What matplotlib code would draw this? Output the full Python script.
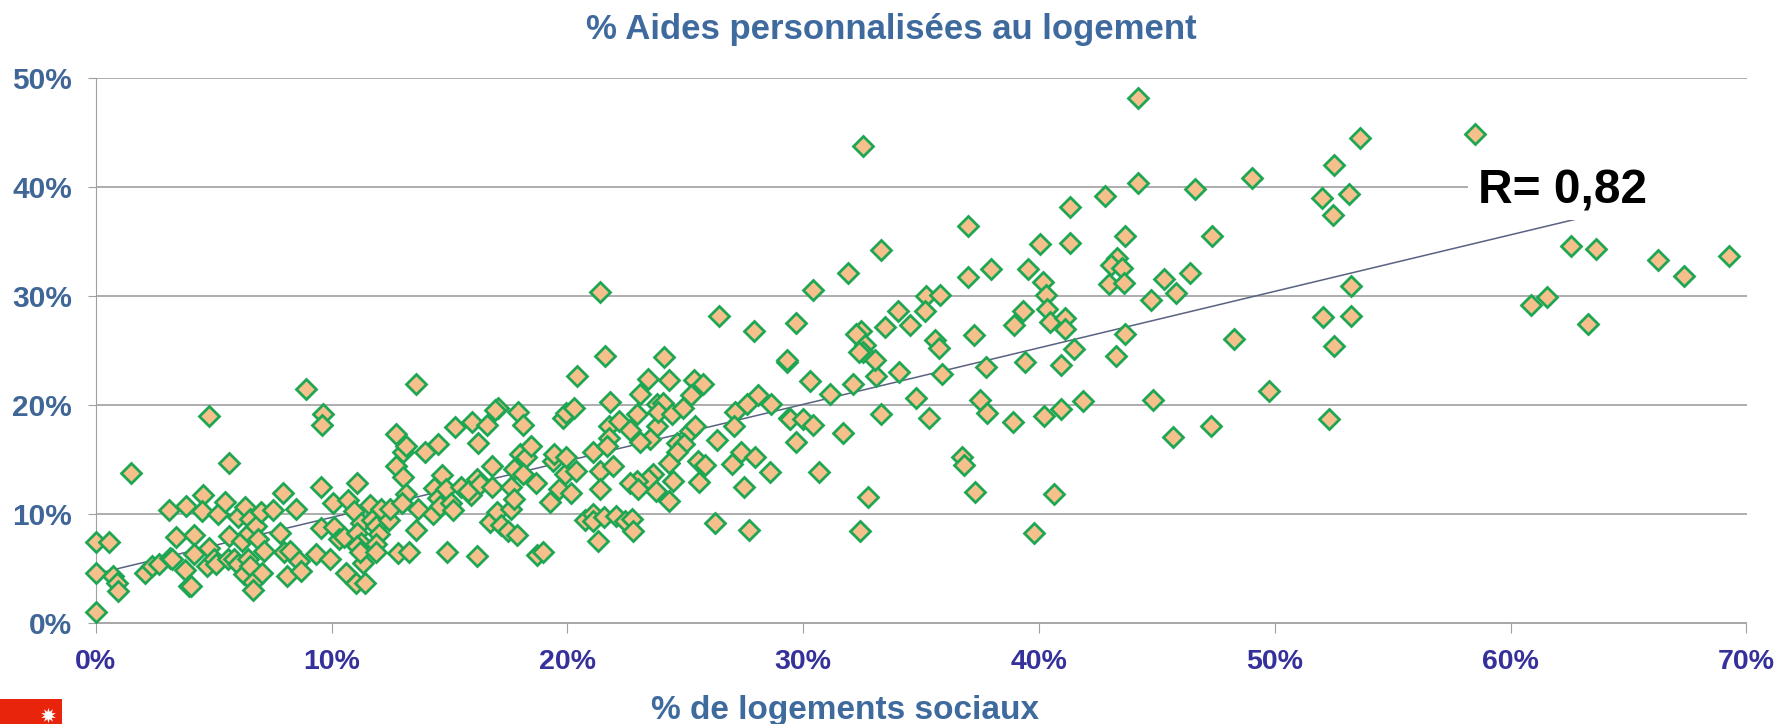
import matplotlib
matplotlib.use("Agg")
import matplotlib.pyplot as plt
from matplotlib.patches import Rectangle

plt.rcParams['font.family'] = ['Liberation Sans', 'DejaVu Sans']

W, H = 1787, 724

# % de logements sociaux
x_vals = [
    0, 0, 0, 0.55, 0.75, 0.9, 0.95, 1.5, 2.1, 2.4, 2.7, 3.1, 3.15, 3.25, 3.4, 3.85, 3.8, 3.97, 4.05, 4.15,
    4.15, 4.55, 4.5, 4.8, 4.7, 4.8, 5.0, 5.1, 5.2, 5.5, 5.65, 5.65, 5.6, 5.85, 6.05, 6.05, 6.2, 6.35, 6.45, 6.3,
    6.55, 6.65, 6.65, 6.55, 6.5, 6.8, 7.0, 6.9, 7.15, 7.05, 7.5, 7.8, 7.95, 8.0, 8.25, 8.1, 8.5, 8.6, 8.7, 8.9,
    9.65, 9.6, 9.55, 9.55, 9.35, 9.95, 10.05, 10.1, 10.3, 10.55, 10.6, 10.7, 10.95, 11.05, 11.4, 11.1, 11.35, 11.25, 11.1, 11.25,
    11.1, 11.2, 11.65, 11.7, 11.9, 12.0, 11.9, 11.9, 12.1, 12.45, 12.5, 12.75, 12.75, 13.05, 13.15, 13.0, 12.8, 13.3, 13.05, 13.15,
    13.6, 13.65, 13.6, 13.95, 14.5, 14.3, 14.35, 14.5, 14.7, 14.6, 14.85, 15.05, 15.15, 14.9, 15.25, 15.5, 15.95, 15.9, 15.8, 16.2,
    16.15, 16.15, 16.3, 16.8, 16.6, 16.8, 16.7, 17.0, 17.2, 17.05, 16.95, 17.6, 17.6, 17.75, 17.5, 17.85, 17.9, 18.1, 17.75, 18.0,
    18.25, 18.1, 18.45, 18.65, 18.7, 18.95, 19.25, 19.4, 19.45, 19.8, 19.95, 20.3, 19.9, 19.95, 19.65, 20.15, 20.35, 20.4, 20.75, 21.1,
    21.1, 21.1, 21.3, 21.4, 21.4, 21.55, 22.05, 22.45, 22.75, 22.8, 21.95, 21.8, 21.75, 21.75, 21.7, 22.2, 22.65, 22.95, 23.1, 23.4,
    24.3, 25.35, 25.75, 25.25, 23.8, 23.8, 24.05, 23.85, 24.45, 24.9, 23.5, 23.1, 25.2, 25.4, 24.65, 24.95, 24.65, 24.3, 25.55, 25.85,
    25.6, 24.5, 23.65, 23.4, 22.95, 22.65, 23.0, 23.75, 24.3, 26.25, 27.7, 26.35, 27.1, 27.05, 27.6, 28.1, 28.65, 27.35, 27.0, 27.95,
    27.5, 28.6, 29.4, 29.45, 30.0, 30.4, 29.7, 30.3, 29.3, 31.15, 32.1, 33.1, 34.05, 35.9, 37.75, 40.95, 34.8, 33.3, 31.7, 30.65,
    32.75, 32.4, 35.35, 37.5, 37.8, 38.9, 36.75, 36.8, 37.3, 40.65, 39.8, 40.2, 40.95, 41.85, 44.85, 45.7, 39.4, 32.55, 44.2, 44.2,
    46.6, 42.8, 41.3, 37.0, 40.05, 41.3, 43.65, 33.3, 31.9, 30.4, 37.0, 37.95, 39.55, 43.3, 43.05, 43.5, 40.15, 40.3, 42.95, 43.6,
    45.3, 46.4, 44.75, 45.8, 21.4, 26.45, 27.9, 29.7, 35.2, 35.8, 34.0, 35.15, 40.35, 39.3, 38.95, 40.45, 41.1, 41.1, 34.55, 33.45,
    32.45, 32.25, 32.6, 32.55, 32.35, 33.05, 37.25, 35.6, 35.75, 43.65, 41.5, 43.25, 21.6, 24.1, 29.3, 49.05, 52.5, 53.6, 58.5, 52.0,
    53.15, 52.45, 47.35, 53.25, 52.05, 53.25, 52.5, 48.25, 49.75, 52.3, 62.55, 63.6, 66.25, 67.35, 69.25, 61.55, 60.85, 63.3, 47.3,
]

# % Aides personnalisées au logement
y_vals = [
    1.0, 4.6, 7.45, 7.4, 4.3, 3.7, 2.95, 13.75, 4.6, 5.2, 5.4, 10.35, 6.0, 5.85, 7.9, 10.75, 4.9, 3.35, 3.35, 8.1,
    6.3, 11.7, 10.3, 19.0, 5.25, 6.9, 5.85, 5.4, 10.0, 11.1, 14.65, 8.0, 5.85, 5.85, 5.4, 9.75, 7.55, 10.6, 5.85, 4.5,
    5.25, 3.8, 3.0, 9.5, 8.3, 8.9, 10.15, 7.75, 6.6, 4.6, 10.35, 8.25, 11.95, 6.5, 6.6, 4.35, 10.5, 5.7, 4.8, 21.5,
    19.15, 18.15, 12.45, 8.7, 6.3, 5.85, 11.0, 8.85, 7.7, 7.85, 4.6, 11.3, 10.3, 3.7, 3.7, 12.8, 5.55, 9.2, 8.3, 7.3,
    7.1, 6.5, 10.8, 9.45, 8.9, 8.15, 7.25, 6.5, 10.45, 9.45, 10.5, 14.4, 17.3, 13.35, 11.8, 11.05, 6.4, 6.55, 15.7, 16.2,
    21.95, 10.5, 8.55, 15.65, 16.45, 10.0, 12.35, 11.5, 13.55, 10.75, 12.3, 11.05, 10.4, 6.55, 18.0, 12.45, 18.45, 11.75, 12.1, 16.5,
    6.15, 13.2, 12.75, 12.45, 18.2, 14.4, 9.3, 10.15, 9.0, 19.7, 19.5, 12.45, 10.5, 11.4, 8.45, 8.05, 19.35, 18.15, 14.15, 15.5,
    15.2, 13.65, 16.25, 12.8, 6.25, 6.55, 11.1, 14.85, 15.55, 18.85, 19.3, 19.75, 13.65, 15.2, 12.3, 11.95, 13.95, 22.65, 9.45, 10.0,
    9.35, 15.65, 7.55, 13.95, 12.3, 9.75, 9.85, 9.35, 9.5, 8.45, 14.4, 20.3, 18.1, 17.0, 16.25, 18.55, 17.75, 19.15, 21.05, 22.35,
    22.3, 22.3, 21.9, 20.9, 18.05, 20.05, 20.15, 19.35, 19.15, 19.75, 16.9, 16.6, 17.6, 18.1, 16.55, 16.4, 15.65, 14.7, 14.85, 14.45,
    12.95, 13.05, 13.65, 13.2, 13.05, 12.8, 12.3, 12.1, 11.2, 9.15, 8.55, 16.8, 19.35, 18.05, 20.1, 20.9, 20.05, 15.7, 14.6, 15.2,
    12.5, 13.85, 18.85, 18.7, 18.75, 18.15, 16.6, 22.2, 23.9, 21.0, 21.9, 22.65, 23.05, 22.85, 23.5, 23.65, 20.6, 19.15, 17.45, 13.85,
    11.6, 8.45, 18.85, 20.5, 19.25, 18.45, 15.2, 14.5, 12.05, 11.8, 8.3, 19.0, 19.6, 20.35, 20.45, 17.1, 23.9, 43.75, 48.2, 40.35,
    39.85, 39.2, 38.15, 36.45, 34.75, 34.85, 35.5, 34.2, 32.1, 30.55, 31.75, 32.5, 32.5, 33.45, 32.8, 32.55, 31.25, 30.1, 31.1, 31.2,
    31.55, 32.15, 29.65, 30.3, 30.4, 28.2, 26.75, 27.55, 30.0, 30.1, 28.65, 28.65, 28.8, 28.6, 27.35, 27.65, 28.0, 26.95, 27.35, 27.15,
    26.8, 26.5, 25.55, 24.9, 24.9, 24.1, 26.45, 26.0, 25.2, 26.55, 25.15, 24.45, 24.5, 24.4, 24.15, 40.8, 42.0, 44.5, 44.9, 39.0,
    39.35, 37.4, 35.55, 30.95, 28.1, 28.2, 25.45, 26.1, 21.3, 18.75, 34.6, 34.3, 33.3, 31.85, 33.7, 29.9, 29.15, 27.45, 18.05,
]

trend_x = [0, 70]
trend_y = [4.5, 40.8]

x_ticks = [0, 10, 20, 30, 40, 50, 60, 70]
y_ticks = [0, 10, 20, 30, 40, 50]

fig = plt.figure(figsize=(W / 100, H / 100), dpi=100)
ax = fig.add_axes([95.7 / W, 1 - 623 / H, (1746.5 - 95.7) / W, (623 - 78) / H])
ax.set_xlim(0, 70)
ax.set_ylim(0, 50)

ax.set_yticks(y_ticks)
ax.set_xticks(x_ticks)
ax.set_xticklabels([f"{t}%" for t in x_ticks])
ax.set_yticklabels([f"{t}%" for t in y_ticks])
ax.grid(axis='y', color='#a0a0a0', lw=1.2, zorder=1)
ax.set_axisbelow(True)

for s in ['top', 'right']:
    ax.spines[s].set_visible(False)
ax.spines['left'].set_color('#a0a0a0')
ax.spines['left'].set_linewidth(0.8)
ax.spines['bottom'].set_color('#a8a8a8')
ax.spines['bottom'].set_linewidth(1.4)

ax.tick_params(axis='x', length=7, width=0.8, color='#a0a0a0', pad=12)
ax.tick_params(axis='y', length=6, width=0.8, color='#a0a0a0', pad=11)
for lab in ax.get_xticklabels():
    lab.set_fontsize(20.5)
    lab.set_fontweight('bold')
    lab.set_color('#35309a')
for lab in ax.get_yticklabels():
    lab.set_fontsize(21.5)
    lab.set_fontweight('bold')
    lab.set_color('#3f6697')

ax.plot(trend_x, trend_y, color='#5a6282', lw=1.1, zorder=2)

# white box behind the R label hides the grid and the end of the trend line
ax.add_patch(Rectangle((58.2, 37.0), 13, 6, facecolor='white', edgecolor='none', zorder=3, clip_on=False))

ax.plot(x_vals, y_vals, ls='none', marker='D', ms=10.2, mfc='#f5c08c', mec='#1ea653', mew=2.0,
        zorder=4, clip_on=False)

ax.text(1478 / W, 1 - 191 / H, "R= 0,82", transform=fig.transFigure, fontsize=34.5, fontweight='bold',
        color='black', va='center', ha='left', zorder=5)

fig.text(891 / W, 1 - 29 / H, "% Aides personnalisées au logement", fontsize=25, fontweight='bold',
         color='#3f6a9e', ha='center', va='center')
fig.text(845 / W, 1 - 710 / H, "% de logements sociaux", fontsize=24, fontweight='bold',
         color='#3f6a9e', ha='center', va='center')

# red logo, bottom left corner
fig.add_artist(Rectangle((0, 0), 62 / W, 25 / H, transform=fig.transFigure, facecolor='#e8250c', edgecolor='none'))
logo = fig.add_axes([36 / W, -3 / H, 24 / W, 24 / H], zorder=5)
logo.axis('off')
logo.set_xlim(-1, 1)
logo.set_ylim(-1, 1)
logo.plot([0], [0], marker=(10, 1, 0), ms=11, color='white', mec='none', clip_on=False)

fig.savefig("out.png", dpi=100)
